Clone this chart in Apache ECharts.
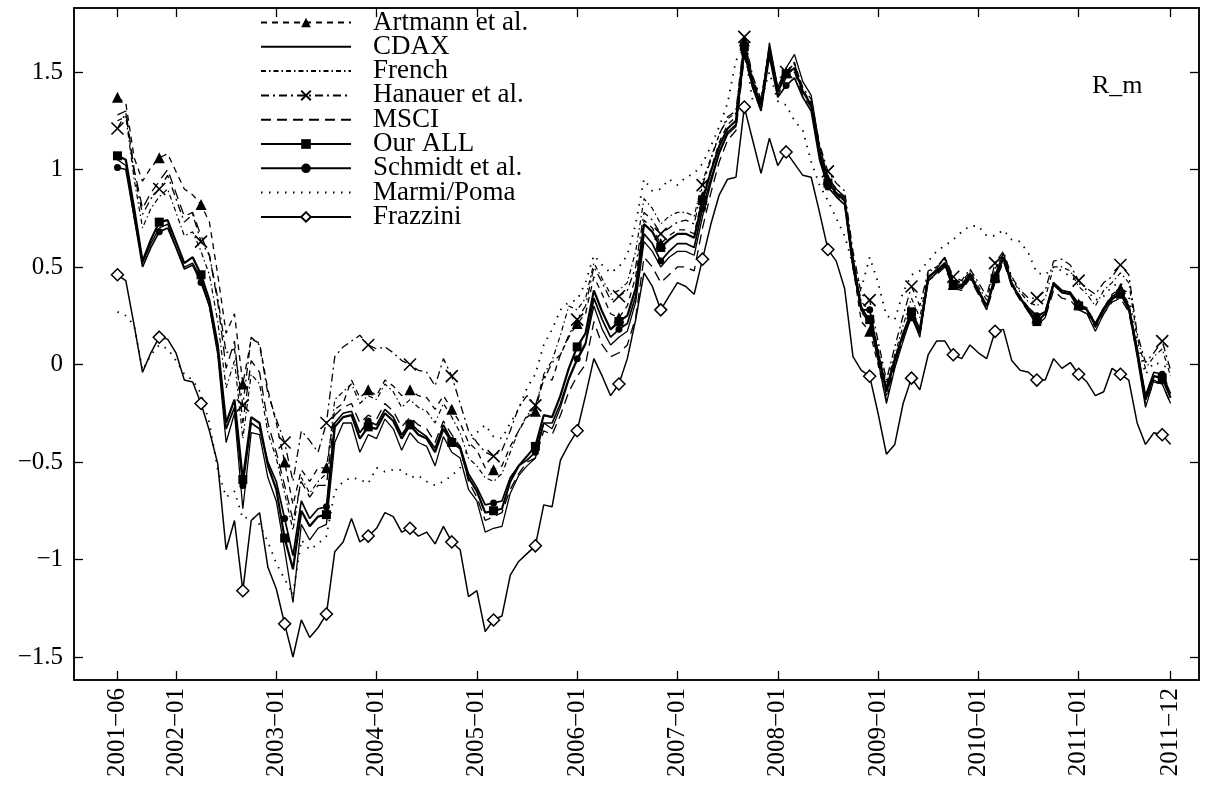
<!DOCTYPE html>
<html>
<head>
<meta charset="utf-8">
<script src="https://cdn.jsdelivr.net/npm/echarts@6/dist/echarts.min.js"></script>
<style>
  html, body { margin: 0; padding: 0; background: #fff; }
  #chart { width: 1212px; height: 787px; }
</style>
</head>
<body>
<div id="chart"></div>
<script>
// Monthly market factor R_m, 2001-06 .. 2011-12 (index 0 = 2001-06)
const xTickIndex = [0, 7, 19, 31, 43, 55, 67, 79, 91, 103, 115, 126];
const xTickLabels = ['2001\u221206', '2002\u221201', '2003\u221201', '2004\u221201', '2005\u221201', '2006\u221201',
  '2007\u221201', '2008\u221201', '2009\u221201', '2010\u221201', '2011\u221201', '2011\u221212'];
const yTicks = [-1.5, -1, -0.5, 0, 0.5, 1, 1.5];
const yTickLabels = ['\u22121.5', '\u22121', '\u22120.5', '0', '0.5', '1', '1.5'];

const artmann = [1.37, 1.34, 1.06, 0.94, 1.01, 1.06, 1.08, 0.99, 0.90, 0.87,
  0.82, 0.73, 0.46, 0.16, 0.26, -0.10, 0.13, 0.11, -0.13, -0.30,
  -0.50, -0.72, -0.54, -0.60, -0.53, -0.53, -0.23, -0.20, -0.08, -0.17,
  -0.13, -0.16, -0.08, -0.11, -0.16, -0.13, -0.16, -0.17, -0.23, -0.16,
  -0.23, -0.30, -0.40, -0.44, -0.53, -0.54, -0.52, -0.42, -0.34, -0.27,
  -0.24, -0.06, -0.08, 0.05, 0.14, 0.21, 0.26, 0.45, 0.36, 0.26,
  0.24, 0.30, 0.45, 0.74, 0.70, 0.62, 0.66, 0.69, 0.69, 0.67,
  0.86, 1.00, 1.14, 1.23, 1.27, 1.66, 1.47, 1.35, 1.63, 1.42,
  1.50, 1.55, 1.41, 1.34, 1.09, 0.95, 0.89, 0.85, 0.50, 0.22,
  0.17, 0.00, -0.18, -0.01, 0.14, 0.26, 0.17, 0.45, 0.48, 0.52,
  0.41, 0.40, 0.46, 0.38, 0.30, 0.45, 0.55, 0.42, 0.35, 0.29,
  0.24, 0.27, 0.42, 0.38, 0.37, 0.31, 0.29, 0.21, 0.29, 0.36,
  0.39, 0.31, 0.08, -0.18, -0.06, -0.07, -0.17];

const cdax = [1.05, 1.02, 0.75, 0.52, 0.62, 0.70, 0.72, 0.60, 0.50, 0.52,
  0.44, 0.30, 0.05, -0.40, -0.25, -0.74, -0.35, -0.36, -0.58, -0.70,
  -0.95, -1.22, -0.82, -0.90, -0.84, -0.82, -0.40, -0.30, -0.30, -0.45,
  -0.36, -0.38, -0.28, -0.33, -0.44, -0.35, -0.40, -0.42, -0.52, -0.37,
  -0.45, -0.48, -0.64, -0.70, -0.86, -0.84, -0.83, -0.66, -0.57, -0.52,
  -0.48, -0.30, -0.33, -0.22, -0.08, 0.02, 0.10, 0.30, 0.18, 0.10,
  0.14, 0.17, 0.32, 0.63, 0.58, 0.50, 0.55, 0.58, 0.58, 0.56,
  0.76, 0.93, 1.08, 1.18, 1.22, 1.62, 1.44, 1.31, 1.65, 1.42,
  1.52, 1.59, 1.45, 1.38, 1.12, 0.96, 0.90, 0.86, 0.55, 0.30,
  0.22, 0.02, -0.20, -0.02, 0.12, 0.25, 0.14, 0.44, 0.49, 0.55,
  0.42, 0.41, 0.47, 0.38, 0.28, 0.46, 0.57, 0.42, 0.34, 0.27,
  0.20, 0.24, 0.42, 0.37, 0.36, 0.28, 0.26, 0.17, 0.26, 0.33,
  0.37, 0.28, 0.04, -0.22, -0.08, -0.10, -0.20];

const french = [1.25, 1.27, 0.95, 0.70, 0.80, 0.86, 0.90, 0.78, 0.66, 0.68,
  0.58, 0.46, 0.22, -0.12, 0.02, -0.38, -0.05, -0.10, -0.35, -0.48,
  -0.66, -0.85, -0.58, -0.66, -0.60, -0.56, -0.18, -0.14, -0.10, -0.20,
  -0.16, -0.18, -0.10, -0.14, -0.22, -0.18, -0.22, -0.24, -0.30, -0.20,
  -0.27, -0.35, -0.48, -0.52, -0.58, -0.60, -0.56, -0.45, -0.34, -0.26,
  -0.22, -0.05, 0.02, 0.15, 0.30, 0.28, 0.34, 0.52, 0.44, 0.36,
  0.38, 0.42, 0.58, 0.85, 0.80, 0.72, 0.76, 0.78, 0.78, 0.76,
  0.94, 1.06, 1.18, 1.26, 1.29, 1.65, 1.46, 1.34, 1.60, 1.40,
  1.48, 1.52, 1.40, 1.34, 1.10, 0.96, 0.90, 0.86, 0.54, 0.32,
  0.28, 0.08, -0.10, 0.05, 0.20, 0.34, 0.24, 0.47, 0.50, 0.54,
  0.44, 0.42, 0.48, 0.40, 0.33, 0.49, 0.57, 0.44, 0.37, 0.32,
  0.30, 0.34, 0.50, 0.50, 0.48, 0.40, 0.36, 0.30, 0.38, 0.42,
  0.47, 0.42, 0.14, -0.02, 0.04, 0.08, -0.06];

const hanauer = [1.21, 1.29, 0.98, 0.77, 0.85, 0.90, 0.97, 0.85, 0.73, 0.77,
  0.63, 0.56, 0.34, 0.06, 0.08, -0.21, 0.14, 0.10, -0.15, -0.28,
  -0.40, -0.60, -0.34, -0.39, -0.45, -0.30, 0.04, 0.09, 0.12, 0.15,
  0.10, 0.08, 0.09, 0.06, 0.02, 0.00, -0.03, -0.04, -0.11, 0.03,
  -0.06, -0.20, -0.34, -0.40, -0.45, -0.47, -0.44, -0.34, -0.22, -0.16,
  -0.21, -0.08, 0.01, 0.05, 0.15, 0.23, 0.30, 0.50, 0.42, 0.33,
  0.35, 0.38, 0.50, 0.78, 0.74, 0.67, 0.70, 0.73, 0.74, 0.72,
  0.92, 1.05, 1.18, 1.27, 1.30, 1.68, 1.48, 1.36, 1.62, 1.42,
  1.50, 1.54, 1.42, 1.36, 1.13, 0.99, 0.93, 0.89, 0.58, 0.36,
  0.33, 0.12, -0.08, 0.09, 0.25, 0.40, 0.30, 0.48, 0.50, 0.55,
  0.45, 0.43, 0.49, 0.42, 0.35, 0.52, 0.58, 0.45, 0.38, 0.34,
  0.34, 0.38, 0.53, 0.54, 0.51, 0.43, 0.39, 0.36, 0.42, 0.45,
  0.51, 0.46, 0.16, 0.01, 0.06, 0.12, -0.03];

const msci = [1.28, 1.30, 1.00, 0.80, 0.88, 0.94, 1.00, 0.88, 0.76, 0.78,
  0.66, 0.56, 0.32, -0.02, 0.12, -0.30, 0.02, -0.04, -0.30, -0.45,
  -0.62, -0.80, -0.60, -0.68, -0.62, -0.62, -0.26, -0.22, -0.20, -0.30,
  -0.26, -0.28, -0.20, -0.24, -0.32, -0.27, -0.31, -0.33, -0.40, -0.29,
  -0.36, -0.42, -0.60, -0.68, -0.80, -0.78, -0.76, -0.64, -0.56, -0.50,
  -0.48, -0.34, -0.36, -0.26, -0.14, -0.06, 0.00, 0.22, 0.10, 0.04,
  0.06, 0.10, 0.24, 0.55, 0.50, 0.42, 0.46, 0.50, 0.50, 0.48,
  0.70, 0.88, 1.04, 1.15, 1.20, 1.58, 1.42, 1.30, 1.60, 1.38,
  1.47, 1.50, 1.38, 1.32, 1.07, 0.92, 0.87, 0.83, 0.50, 0.27,
  0.21, 0.03, -0.16, 0.00, 0.14, 0.25, 0.16, 0.43, 0.46, 0.50,
  0.39, 0.38, 0.44, 0.36, 0.28, 0.42, 0.53, 0.40, 0.33, 0.27,
  0.22, 0.24, 0.38, 0.34, 0.33, 0.28, 0.26, 0.19, 0.26, 0.32,
  0.34, 0.27, 0.05, -0.20, -0.09, -0.10, -0.20];

const ourAll = [1.07, 1.05, 0.80, 0.53, 0.64, 0.73, 0.74, 0.63, 0.52, 0.55,
  0.46, 0.33, 0.10, -0.30, -0.18, -0.59, -0.27, -0.30, -0.52, -0.64,
  -0.89, -1.05, -0.75, -0.83, -0.78, -0.77, -0.32, -0.27, -0.26, -0.38,
  -0.32, -0.33, -0.25, -0.29, -0.38, -0.31, -0.36, -0.38, -0.45, -0.33,
  -0.40, -0.43, -0.58, -0.65, -0.76, -0.75, -0.74, -0.60, -0.52, -0.47,
  -0.42, -0.26, -0.27, -0.16, -0.02, 0.09, 0.16, 0.38, 0.27, 0.18,
  0.22, 0.25, 0.39, 0.72, 0.68, 0.60, 0.64, 0.67, 0.67, 0.65,
  0.84, 0.99, 1.12, 1.21, 1.25, 1.63, 1.45, 1.33, 1.62, 1.40,
  1.49, 1.52, 1.40, 1.33, 1.08, 0.93, 0.88, 0.84, 0.52, 0.28,
  0.23, 0.05, -0.14, 0.02, 0.16, 0.27, 0.18, 0.45, 0.48, 0.52,
  0.41, 0.40, 0.46, 0.38, 0.30, 0.44, 0.55, 0.41, 0.34, 0.28,
  0.22, 0.26, 0.41, 0.37, 0.36, 0.30, 0.28, 0.20, 0.28, 0.34,
  0.36, 0.29, 0.07, -0.18, -0.06, -0.07, -0.17];

const schmidt = [1.01, 1.00, 0.76, 0.50, 0.60, 0.68, 0.70, 0.60, 0.49, 0.51,
  0.42, 0.30, 0.07, -0.33, -0.22, -0.62, -0.30, -0.33, -0.50, -0.60,
  -0.79, -0.98, -0.70, -0.79, -0.74, -0.73, -0.30, -0.25, -0.24, -0.35,
  -0.29, -0.31, -0.23, -0.27, -0.36, -0.30, -0.34, -0.37, -0.43, -0.31,
  -0.39, -0.42, -0.56, -0.63, -0.72, -0.71, -0.70, -0.58, -0.52, -0.49,
  -0.45, -0.30, -0.30, -0.20, -0.07, 0.03, 0.11, 0.34, 0.23, 0.14,
  0.18, 0.21, 0.35, 0.67, 0.62, 0.53, 0.58, 0.62, 0.62, 0.60,
  0.80, 0.95, 1.09, 1.19, 1.23, 1.60, 1.42, 1.30, 1.58, 1.37,
  1.43, 1.47, 1.37, 1.30, 1.05, 0.91, 0.86, 0.82, 0.50, 0.28,
  0.28, 0.06, -0.12, 0.03, 0.15, 0.24, 0.16, 0.43, 0.47, 0.51,
  0.40, 0.39, 0.45, 0.37, 0.30, 0.45, 0.54, 0.41, 0.34, 0.29,
  0.25, 0.27, 0.42, 0.38, 0.37, 0.31, 0.28, 0.21, 0.29, 0.35,
  0.37, 0.30, 0.08, -0.16, -0.04, -0.05, -0.15];

const marmiPoma = [0.27, 0.25, 0.20, -0.03, 0.05, 0.10, 0.08, 0.02, -0.05, -0.08,
  -0.15, -0.30, -0.54, -0.68, -0.65, -0.79, -0.78, -0.82, -0.91, -1.02,
  -1.10, -1.18, -0.90, -0.95, -0.92, -0.88, -0.65, -0.60, -0.58, -0.59,
  -0.61, -0.53, -0.55, -0.54, -0.54, -0.58, -0.57, -0.60, -0.62, -0.60,
  -0.57, -0.53, -0.42, -0.35, -0.31, -0.37, -0.38, -0.30, -0.23, -0.12,
  -0.05, 0.10, 0.18, 0.28, 0.32, 0.33, 0.42, 0.56, 0.51, 0.47,
  0.50, 0.56, 0.72, 0.95, 0.89, 0.90, 0.95, 0.92, 0.96, 0.98,
  1.03, 1.12, 1.22, 1.34, 1.56, 1.62, 1.35, 1.35, 1.50, 1.35,
  1.33, 1.25, 1.20, 1.04, 0.92, 0.84, 0.75, 0.66, 0.51, 0.39,
  0.55, 0.42, 0.25, 0.23, 0.37, 0.46, 0.48, 0.53, 0.58, 0.61,
  0.64, 0.68, 0.71, 0.71, 0.66, 0.66, 0.69, 0.64, 0.63, 0.57,
  0.47, 0.46, 0.50, 0.48, 0.45, 0.42, 0.38, 0.33, 0.35, 0.40,
  0.42, 0.35, 0.12, -0.05, 0.01, 0.00, -0.03];

const frazzini = [0.46, 0.43, 0.20, -0.04, 0.06, 0.14, 0.13, 0.06, -0.08, -0.09,
  -0.20, -0.34, -0.51, -0.95, -0.80, -1.16, -0.80, -0.76, -1.04, -1.15,
  -1.33, -1.50, -1.31, -1.40, -1.35, -1.28, -0.96, -0.91, -0.79, -0.91,
  -0.88, -0.84, -0.76, -0.78, -0.86, -0.84, -0.88, -0.86, -0.92, -0.83,
  -0.91, -0.95, -1.19, -1.16, -1.37, -1.31, -1.29, -1.08, -1.01, -0.97,
  -0.93, -0.72, -0.73, -0.49, -0.41, -0.34, -0.16, 0.03, -0.06, -0.16,
  -0.10, 0.03, 0.23, 0.47, 0.40, 0.28, 0.35, 0.42, 0.40, 0.36,
  0.54, 0.72, 0.87, 0.95, 0.96, 1.32, 1.15, 0.98, 1.16, 1.02,
  1.09, 1.03, 0.97, 0.96, 0.78, 0.59, 0.53, 0.39, 0.04, -0.03,
  -0.06, -0.25, -0.46, -0.41, -0.20, -0.07, -0.13, 0.05, 0.12, 0.12,
  0.05, 0.03, 0.10, 0.06, 0.03, 0.17, 0.18, 0.02, -0.03, -0.04,
  -0.08, -0.08, 0.03, -0.02, 0.01, -0.05, -0.09, -0.16, -0.14, -0.02,
  -0.05, -0.08, -0.30, -0.41, -0.35, -0.36, -0.41];

const FONT = '"Liberation Serif", "Times New Roman", "DejaVu Serif", serif';
const BLACK = '#000';
const MARK_STEP = 5; // a point symbol on every fifth month

// [monthIndex, value] pairs; only every fifth point keeps its symbol
function toPoints(values, marked) {
  return values.map((v, i) =>
    marked && i % MARK_STEP === 0 ? [i, v] : { value: [i, v], symbol: 'none' });
}

function lineSeries(name, values, lineStyle, marker) {
  return {
    name: name,
    type: 'line',
    data: toPoints(values, !!marker),
    lineStyle: Object.assign({ color: BLACK, width: 1.3 }, lineStyle),
    symbol: marker ? marker.symbol : 'none',
    symbolSize: marker ? marker.size : 0,
    showSymbol: !!marker,
    showAllSymbol: true,
    itemStyle: marker ? marker.itemStyle : { color: BLACK },
    emphasis: { disabled: true },
    silent: true,
    animation: false
  };
}

const crossPath = 'path://M0,0L10,10M10,0L0,10';

const series = [
  lineSeries('Artmann et al.', artmann, { type: [6, 5] },
    { symbol: 'triangle', size: 11, itemStyle: { color: BLACK } }),
  lineSeries('CDAX', cdax, { type: 'solid', width: 1.3 }),
  lineSeries('French', french, { type: [5, 3, 1.5, 3], width: 1.2 }),
  lineSeries('Hanauer et al.', hanauer, { type: [8, 4, 2, 4], width: 1.3 },
    { symbol: crossPath, size: 12, itemStyle: { color: BLACK, borderColor: BLACK, borderWidth: 1.6 } }),
  lineSeries('MSCI', msci, { type: [10, 6], width: 1.3 }),
  lineSeries('Our ALL', ourAll, { type: 'solid', width: 2.2 },
    { symbol: 'rect', size: 9, itemStyle: { color: BLACK } }),
  lineSeries('Schmidt et al.', schmidt, { type: 'solid', width: 1.7 },
    { symbol: 'circle', size: 7, itemStyle: { color: BLACK } }),
  lineSeries('Marmi/Poma', marmiPoma, { type: [1.5, 6.5], width: 1.8 }),
  lineSeries('Frazzini', frazzini, { type: 'solid', width: 1.5 },
    { symbol: 'diamond', size: 12, itemStyle: { color: '#fff', borderColor: BLACK, borderWidth: 1.5 } })
];

// legend entries: plain lines for the series drawn without point symbols
const legendData = series.map(s => s.symbol === 'none'
  ? { name: s.name, itemStyle: { color: 'rgba(0,0,0,0)', borderColor: 'rgba(0,0,0,0)', borderWidth: 0, opacity: 0 } }
  : { name: s.name });

const X_MIN = -5.2, X_MAX = 129.4;
const Y_MIN = -1.618, Y_MAX = 1.828;

const axisLineStyle = { show: true, onZero: false, lineStyle: { color: BLACK, width: 1.5 } };
const tickStyle = { color: BLACK, width: 1.3 };

function xAxis(position, withLabels) {
  return {
    type: 'value', position: position, min: X_MIN, max: X_MAX,
    axisLine: axisLineStyle,
    axisTick: { show: true, inside: true, length: 9, customValues: xTickIndex, lineStyle: tickStyle },
    axisLabel: {
      show: withLabels, customValues: xTickIndex, rotate: 90, margin: 8,
      color: BLACK, fontFamily: FONT, fontSize: 25,
      formatter: v => xTickLabels[xTickIndex.indexOf(v)]
    },
    splitLine: { show: false }
  };
}

function yAxis(position, withLabels) {
  return {
    type: 'value', position: position, min: Y_MIN, max: Y_MAX,
    axisLine: axisLineStyle,
    axisTick: { show: true, inside: true, length: 9, customValues: yTicks, lineStyle: tickStyle },
    axisLabel: {
      show: withLabels, customValues: yTicks, margin: 11,
      color: BLACK, fontFamily: FONT, fontSize: 25,
      formatter: v => yTickLabels[yTicks.indexOf(v)]
    },
    splitLine: { show: false }
  };
}

const chart = echarts.init(document.getElementById('chart'), null, { renderer: 'canvas' });
chart.setOption({
  backgroundColor: '#fff',
  animation: false,
  grid: { left: 74, right: 13, top: 8, bottom: 107, show: true, borderColor: BLACK, borderWidth: 1.5 },
  title: {
    text: 'R_m', left: 1087, top: 68,
    textStyle: { fontFamily: FONT, fontSize: 26, fontWeight: 'normal', color: BLACK }
  },
  legend: {
    orient: 'vertical', left: 255, top: 4,
    itemWidth: 90, itemHeight: 12, itemGap: -2.7,
    selectedMode: false,
    textStyle: { fontFamily: FONT, fontSize: 27, color: BLACK, padding: [0, 0, 0, 17] },
    data: legendData
  },
  xAxis: [xAxis('bottom', true), xAxis('top', false)],
  yAxis: [yAxis('left', true), yAxis('right', false)],
  series: series
});
</script>
</body>
</html>
